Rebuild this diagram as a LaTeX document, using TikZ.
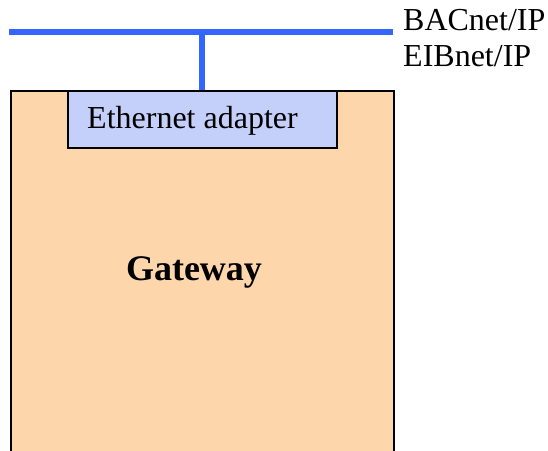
\documentclass[tikz,border=0pt]{standalone}
\usepackage{fontspec}
\setmainfont{Liberation Serif}
\usepackage{tikz}

\definecolor{gwfill}{RGB}{253,214,172}
\definecolor{adfill}{RGB}{196,208,250}
\definecolor{busblue}{RGB}{51,102,255}

\begin{document}
\begin{tikzpicture}[x=1pt, y=-1pt,
  box/.style={draw=black, line width=2pt, inner sep=0pt},
  bus/.style={busblue, line width=6pt},
  txt/.style={inner sep=0pt, anchor=base west, font=\fontsize{32}{38}\selectfont}]

\useasboundingbox (0,0) rectangle (548,450);
\clip (0,0) rectangle (548,450);

\node [box, fill=gwfill, anchor=north west, minimum width=383pt, minimum height=420pt] (gateway) at (9.5,90) {};
\node [box, fill=adfill, anchor=north west, minimum width=269pt, minimum height=57pt] (adapter) at (66.7,90) {};

\node [txt] (adtext) at (87,128.5) {Ethernet adapter};
\node [inner sep=0pt, anchor=base, font=\fontsize{36}{40}\selectfont\bfseries] (gwtext) at (194,280.5) {Gateway};

% -------- bus -----------
\coordinate (busL) at (9,32.3);
\coordinate (busR) at (393,32.3);
\draw [bus] (busL) -- (busR);
\draw [bus] (adapter.north) -- (adapter.north |- busL);

\node [txt] (bacnet) at (403,30) {BACnet/IP};
\node [txt] (eibnet) at (403,66.5) {EIBnet/IP};

\end{tikzpicture}
\end{document}
